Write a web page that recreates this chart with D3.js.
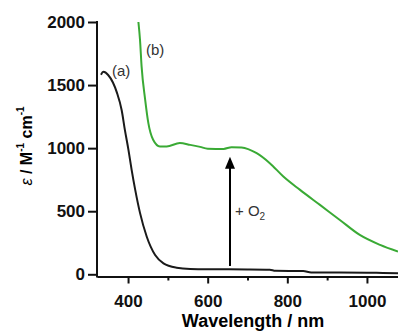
<!DOCTYPE html>
<html>
<head>
<meta charset="utf-8">
<script src="https://cdn.jsdelivr.net/npm/d3@7"></script>
<style>
    body { margin: 0; background: #fff; }
    svg { display: block; }
    .axis text { font-family: "Liberation Sans", Arial, sans-serif; font-weight: bold; font-size: 17px; fill: #111; }
    .axis line, .axis path { stroke: #111; stroke-width: 2px; }
    .note { font-family: "Liberation Sans", Arial, sans-serif; fill: #333; }
</style>
</head>
<body>
<div id="chart"></div>
<script>
// curve (a): before O2
const blackWl  = [332, 338, 350, 362, 372, 384, 392, 401, 409, 418, 430, 447, 468, 489, 522, 556, 606, 700, 756, 770, 840, 860, 1000, 1040, 1078];
const blackEps = [1582, 1605, 1580, 1520, 1440, 1300, 1145, 986, 828, 669, 487, 298, 153, 87, 52, 42, 40, 39, 37, 28, 26, 15, 13, 10, 8];

// curve (b): after O2
const greenWl  = [426, 430, 434, 443, 451, 463, 480, 497, 530, 556, 581, 600, 640, 660, 685, 723, 756, 790, 832, 882, 932, 982, 1033, 1078];
const greenEps = [2000, 1859, 1648, 1383, 1198, 1066, 1013, 1013, 1040, 1026, 1010, 996, 994, 1008, 1006, 960, 881, 775, 669, 550, 431, 312, 233, 180];

const xTicks = [400, 600, 800, 1000];
const xMinorTicks = [500, 700, 900];
const yTicks = [0, 500, 1000, 1500, 2000];

// arrow for "+ O2"
const arrowWl = 656;
const arrowFrom = 66;
const arrowTo = 931;

const width = 398, height = 331;

const svg = d3.select("#chart")
    .append("svg")
        .attr("width", width)
        .attr("height", height);

const x = d3.scaleLinear().domain([322, 1078]).range([97, 398]);
const y = d3.scaleLinear().domain([0, 2000]).range([274.3, 22]);
const xAxisY = 276.5;

// y axis
const yAxis = svg.append("g")
    .attr("class", "axis axis--y")
    .attr("transform", "translate(97,0)")
    .call(d3.axisLeft(y).tickValues(yTicks).tickFormat(d3.format("d")).tickSize(9).tickPadding(3));
yAxis.select(".domain").remove();
svg.append("line")
    .attr("x1", 97).attr("x2", 97)
    .attr("y1", y(2000) - 1).attr("y2", xAxisY + 1)
    .attr("stroke", "#111").attr("stroke-width", 2);

// x axis
svg.append("g")
    .attr("class", "axis axis--x")
    .attr("transform", `translate(0,${xAxisY})`)
    .call(d3.axisBottom(x).tickValues(xTicks).tickFormat(d3.format("d")).tickSize(7).tickPadding(11).tickSizeOuter(0));

svg.append("g")
    .attr("class", "axis axis--minor")
    .attr("transform", `translate(0,${xAxisY})`)
    .call(d3.axisBottom(x).tickValues(xMinorTicks).tickSize(4).tickFormat("").tickSizeOuter(0))
    .select(".domain").remove();

// axis titles
svg.append("text")
    .attr("x", 253)
    .attr("y", 326.5)
    .attr("text-anchor", "middle")
    .style("font-family", "'Liberation Sans', Arial, sans-serif")
    .style("font-weight", "bold")
    .style("font-size", "18px")
    .text("Wavelength / nm");

const yTitle = svg.append("text")
    .attr("transform", "translate(32,146) rotate(-90)")
    .attr("text-anchor", "middle")
    .style("font-family", "'Liberation Sans', Arial, sans-serif")
    .style("font-weight", "bold")
    .style("font-size", "16px");
yTitle.append("tspan").style("font-style", "italic").style("font-weight", "normal").text("ε");
yTitle.append("tspan").text(" / M");
yTitle.append("tspan").attr("dy", -8).style("font-size", "10px").text("-1");
yTitle.append("tspan").attr("dy", 8).text(" cm");
yTitle.append("tspan").attr("dy", -8).style("font-size", "10px").text("-1");

// curves
const line = d3.line()
    .x(d => x(d[0]))
    .y(d => y(d[1]))
    .curve(d3.curveMonotoneX);

svg.append("path")
    .datum(d3.zip(blackWl, blackEps))
    .attr("fill", "none")
    .attr("stroke", "#1a1a1a")
    .attr("stroke-width", 2)
    .attr("d", line);

svg.append("path")
    .datum(d3.zip(greenWl, greenEps))
    .attr("fill", "none")
    .attr("stroke", "#3aaa35")
    .attr("stroke-width", 2)
    .attr("d", line);

// arrow
const ax = x(arrowWl);
svg.append("line")
    .attr("x1", ax).attr("x2", ax)
    .attr("y1", y(arrowFrom)).attr("y2", y(arrowTo) + 8)
    .attr("stroke", "#000").attr("stroke-width", 2);
svg.append("path")
    .attr("d", `M${ax},${y(arrowTo)} L${ax - 5},${y(arrowTo) + 12} L${ax + 5},${y(arrowTo) + 12} Z`)
    .attr("fill", "#000");

const o2 = svg.append("text")
    .attr("class", "note")
    .attr("x", ax + 5)
    .attr("y", 216)
    .style("font-size", "15px");
o2.append("tspan").text("+ O");
o2.append("tspan").attr("dy", 4).style("font-size", "10px").text("2");

// curve labels
svg.append("text").attr("class", "note")
    .attr("x", 112).attr("y", 76)
    .style("font-size", "15px")
    .text("(a)");
svg.append("text").attr("class", "note")
    .attr("x", 146).attr("y", 55)
    .style("font-size", "15px")
    .text("(b)");
</script>
</body>
</html>
